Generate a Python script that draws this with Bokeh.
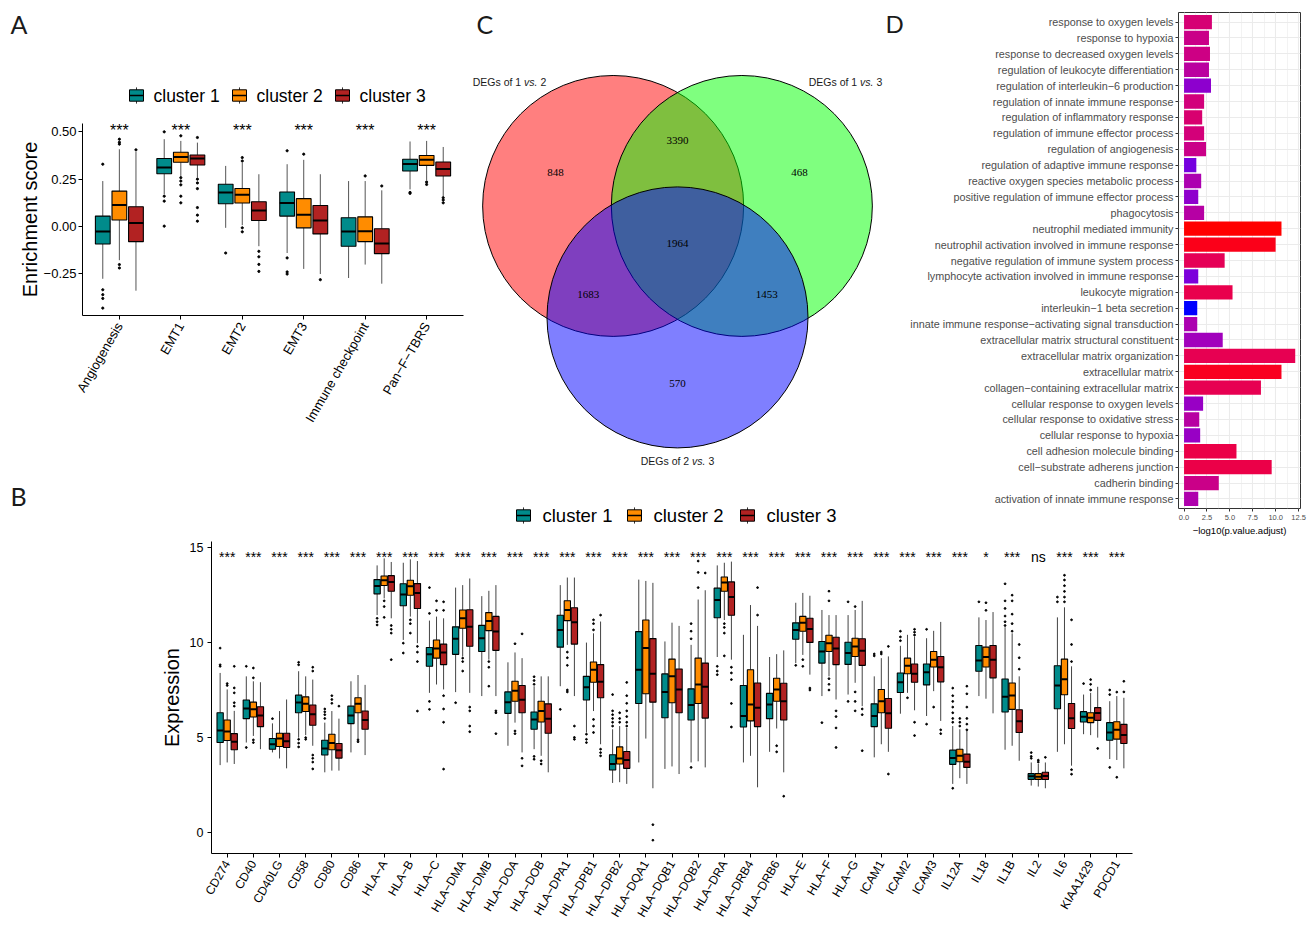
import math
import numpy as np
from bokeh.plotting import figure
from bokeh.models import (Range1d, FixedTicker, SingleIntervalTicker,
                          PrintfTickFormatter, LinearColorMapper, ColumnDataSource)
from bokeh.layouts import row, column
from bokeh.core.properties import value
from bokeh.embed import file_html
from bokeh.resources import INLINE

M = "\u2212"
SANS = "Liberation Sans"
SERIF = "Liberation Serif"
TAG = "Lato"

CLUSTERS = ["cluster 1", "cluster 2", "cluster 3"]
CLUSTER_COLORS = ["#008B8B", "#FF8C00", "#B22222"]

# ---------------- Panel A : enrichment scores (lower whisker, Q1, median, Q3, upper whisker)
A_SIGNATURES = ["Angiogenesis", "EMT1", "EMT2", "EMT3", "Immune checkpoint", f"Pan{M}F{M}TBRS"]
A_STATS_C1 = [(-0.276, -0.092, -0.027, 0.055, 0.240), (0.170, 0.279, 0.311, 0.359, 0.461),
              (-0.007, 0.120, 0.180, 0.223, 0.320), (-0.140, 0.055, 0.124, 0.182, 0.329),
              (-0.272, -0.104, -0.027, 0.046, 0.240), (0.196, 0.293, 0.330, 0.355, 0.449)]
A_STATS_C2 = [(-0.178, 0.034, 0.113, 0.187, 0.408), (0.267, 0.339, 0.367, 0.392, 0.452),
              (0.007, 0.124, 0.168, 0.201, 0.337), (-0.224, -0.007, 0.062, 0.147, 0.352),
              (-0.201, -0.080, -0.025, 0.051, 0.240), (0.244, 0.323, 0.352, 0.375, 0.452)]
A_STATS_C3 = [(-0.339, -0.080, 0.018, 0.104, 0.395), (0.258, 0.325, 0.359, 0.378, 0.443),
              (-0.104, 0.032, 0.085, 0.131, 0.276), (-0.251, -0.039, 0.032, 0.111, 0.276),
              (-0.302, -0.143, -0.090, -0.012, 0.191), (0.161, 0.267, 0.304, 0.341, 0.420)]
A_OUT_C1 = [[0.329, -0.334, -0.36, -0.38, -0.431], [0.50, 0.16, 0.134, 0.002], [-0.14],
            [0.40, -0.166, -0.24, -0.251], [], [0.18, 0.175]]
A_OUT_C2 = [[0.461, 0.445, 0.435, -0.201, -0.219], [0.479, 0.258, 0.24, 0.22, 0.16, 0.125],
            [0.364, 0.346, -0.007, -0.028], [0.382], [0.267], [0.235, 0.222]]
A_OUT_C3 = [[0.405], [0.47, 0.25, 0.23, 0.20, 0.10, 0.06, 0.028], [-0.131, -0.16, -0.20, -0.237],
            [-0.281], [0.214], [0.152, 0.14, 0.125]]
A_SIGNIF = ["***", "***", "***", "***", "***", "***"]
A_TICKS = [-0.25, 0.0, 0.25, 0.50]

# ---------------- Panel B : expression of immune genes
B_GENES = ["CD274", "CD40", "CD40LG", "CD58", "CD80", "CD86", f"HLA{M}A", f"HLA{M}B", f"HLA{M}C",
           f"HLA{M}DMA", f"HLA{M}DMB", f"HLA{M}DOA", f"HLA{M}DOB", f"HLA{M}DPA1", f"HLA{M}DPB1",
           f"HLA{M}DPB2", f"HLA{M}DQA1", f"HLA{M}DQB1", f"HLA{M}DQB2", f"HLA{M}DRA", f"HLA{M}DRB4",
           f"HLA{M}DRB6", f"HLA{M}E", f"HLA{M}F", f"HLA{M}G", "ICAM1", "ICAM2", "ICAM3", "IL12A",
           "IL18", "IL1B", "IL2", "IL6", "KIAA1429", "PDCD1"]
B_STATS_C1 = [
    (3.54, 4.73, 5.36, 6.30, 8.40), (4.73, 5.99, 6.53, 6.97, 8.22), (4.21, 4.38, 4.64, 4.94, 5.74),
    (4.99, 6.30, 6.84, 7.23, 8.49), (3.16, 4.07, 4.42, 4.85, 5.78), (4.21, 5.73, 6.16, 6.65, 7.96),
    (11.45, 12.57, 12.99, 13.32, 14.07), (10.14, 11.94, 12.54, 13.10, 14.21), (7.35, 8.75, 9.38, 9.74, 11.16),
    (7.39, 9.38, 10.20, 10.83, 12.90), (7.18, 9.53, 10.23, 10.91, 12.45), (4.56, 6.27, 6.86, 7.40, 8.96),
    (4.38, 5.43, 5.95, 6.34, 7.70), (7.70, 9.76, 10.67, 11.44, 13.03), (5.26, 6.97, 7.65, 8.22, 10.00),
    (2.60, 3.28, 3.60, 4.09, 5.43), (3.68, 6.79, 8.57, 10.58, 13.32), (3.34, 6.04, 7.40, 8.35, 10.06),
    (3.68, 5.92, 6.71, 7.56, 9.88), (9.24, 11.31, 12.24, 12.87, 14.07), (3.68, 5.55, 6.13, 7.74, 10.41),
    (4.24, 5.99, 6.74, 7.32, 9.24), (8.92, 10.18, 10.67, 11.04, 12.10), (7.18, 8.92, 9.53, 10.06, 11.72),
    (7.26, 8.85, 9.45, 10.02, 11.45), (3.95, 5.57, 6.13, 6.77, 8.22), (6.25, 7.37, 7.91, 8.40, 9.83),
    (6.13, 7.77, 8.43, 8.87, 10.23), (2.55, 3.58, 3.91, 4.33, 5.60), (7.18, 8.49, 9.06, 9.85, 11.33),
    (4.35, 6.34, 7.14, 8.08, 10.81), (2.46, 2.79, 2.95, 3.09, 3.68), (4.24, 6.51, 7.74, 8.78, 11.33),
    (5.17, 5.81, 6.09, 6.36, 7.26), (3.86, 4.85, 5.26, 5.78, 6.91)]
B_STATS_C2 = [
    (3.68, 4.84, 5.31, 5.92, 7.53), (5.08, 6.08, 6.48, 6.86, 7.96), (3.89, 4.52, 4.94, 5.22, 6.39),
    (5.12, 6.37, 6.77, 7.14, 8.22), (3.25, 4.35, 4.70, 5.17, 6.39), (4.91, 6.30, 6.77, 7.09, 8.29),
    (12.33, 13.01, 13.29, 13.51, 14.44), (11.37, 12.50, 12.97, 13.29, 14.39), (7.79, 9.18, 9.69, 10.14, 11.37),
    (9.27, 10.76, 11.28, 11.72, 13.03), (9.10, 10.63, 11.14, 11.58, 12.73), (5.78, 6.91, 7.46, 7.96, 9.48),
    (4.03, 5.81, 6.39, 6.91, 8.22), (9.88, 11.16, 11.72, 12.21, 13.43), (6.39, 7.91, 8.57, 8.98, 10.49),
    (2.64, 3.60, 3.89, 4.50, 5.60), (4.94, 7.30, 9.71, 11.19, 13.25), (3.47, 6.83, 8.22, 9.13, 11.05),
    (3.74, 6.79, 7.79, 9.18, 12.27), (11.19, 12.71, 13.17, 13.46, 14.21), (4.03, 5.87, 6.74, 8.57, 11.98),
    (5.47, 6.91, 7.53, 8.12, 9.39), (9.35, 10.60, 11.05, 11.38, 12.62), (8.22, 9.53, 9.97, 10.39, 11.45),
    (7.88, 9.27, 9.80, 10.23, 11.72), (4.64, 6.30, 6.91, 7.53, 9.18), (7.35, 8.36, 8.78, 9.18, 10.41),
    (7.44, 8.71, 9.10, 9.53, 10.62), (2.85, 3.72, 4.03, 4.38, 5.43), (7.04, 8.71, 9.24, 9.76, 11.19),
    (4.56, 6.48, 7.21, 7.87, 10.49), (2.41, 2.79, 2.93, 3.09, 3.60), (4.64, 7.25, 8.07, 9.13, 11.86),
    (5.12, 5.78, 6.04, 6.30, 7.35), (3.81, 4.91, 5.40, 5.83, 7.18)]
B_STATS_C3 = [
    (3.60, 4.35, 4.77, 5.20, 6.40), (4.38, 5.57, 6.16, 6.62, 7.91), (3.37, 4.47, 4.80, 5.22, 7.00),
    (4.56, 5.64, 6.22, 6.71, 8.05), (3.25, 3.91, 4.33, 4.68, 5.99), (4.07, 5.43, 5.92, 6.39, 7.77),
    (11.28, 12.71, 13.20, 13.53, 14.25), (9.97, 11.80, 12.61, 13.11, 14.30), (7.53, 8.84, 9.48, 9.92, 11.28),
    (7.35, 9.81, 10.84, 11.73, 13.38), (7.18, 9.59, 10.58, 11.38, 13.03), (4.21, 6.30, 6.98, 7.74, 9.18),
    (3.16, 5.22, 5.99, 6.77, 8.22), (7.18, 9.92, 11.07, 11.84, 13.43), (4.64, 7.09, 7.93, 8.84, 11.11),
    (2.55, 3.37, 3.81, 4.26, 5.50), (2.32, 6.86, 8.36, 10.21, 13.15), (3.07, 6.30, 7.53, 8.61, 10.88),
    (3.42, 6.02, 7.67, 8.92, 12.76), (9.10, 11.44, 12.41, 13.20, 14.27), (2.37, 5.57, 6.57, 7.87, 10.88),
    (3.16, 5.92, 6.91, 7.86, 9.59), (8.31, 10.01, 10.72, 11.28, 12.47), (7.00, 8.84, 9.69, 10.28, 11.45),
    (6.65, 8.80, 9.57, 10.20, 12.20), (4.24, 5.48, 6.27, 7.05, 9.27), (6.43, 7.91, 8.36, 8.87, 10.32),
    (5.87, 7.93, 8.70, 9.27, 11.09), (2.55, 3.42, 3.72, 4.12, 5.34), (6.27, 8.14, 9.10, 9.85, 11.61),
    (3.77, 5.26, 5.85, 6.46, 8.22), (2.32, 2.78, 2.97, 3.16, 3.68), (3.51, 5.47, 6.01, 6.79, 8.75),
    (4.99, 5.90, 6.29, 6.57, 7.67), (3.37, 4.68, 5.13, 5.69, 7.09)]
B_OUT_C1 = [[8.75, 8.83, 9.71], [8.75, 4.47], [5.99], [8.83, 8.96, 4.90, 4.70, 4.50], [6.00, 6.20, 6.35, 6.50],
            [], [11.28, 11.10, 10.93], [9.97, 9.45], [12.90, 11.54, 6.90, 6.48], [6.83], [], [],
            [8.20, 8.00, 7.80, 4.00, 3.85], [6.48], [5.17, 4.90, 4.73], [7.26, 6.40, 6.20, 6.00, 5.80, 5.60],
            [], [], [11.00, 10.60, 10.20, 3.42], [8.75, 8.50, 8.31], [], [], [8.80], [5.78], [12.15, 6.90],
            [9.40, 9.30], [10.60, 10.30, 10.10], [10.70, 5.70], [7.60, 7.20, 6.90, 6.60, 6.30, 6.00, 5.80, 2.32],
            [12.15], [13.10, 12.20, 11.80, 11.40, 11.10, 10.90], [4.20, 4.00, 3.90], [12.40, 12.15], [7.84],
            [7.50, 7.26, 3.42]]
B_OUT_C2 = [[7.74, 7.84], [8.66, 8.14, 4.87, 4.73], [], [4.99, 4.90], [6.80, 7.00, 7.20], [4.87, 4.77],
            [12.20, 11.90, 11.33], [11.20, 11.00, 10.50], [12.20, 11.70], [9.18, 9.00, 8.50], [9.00, 8.70, 7.70],
            [9.94, 5.34, 5.20], [3.77, 3.60], [9.50, 9.20, 8.80, 7.50, 7.40], [11.20, 11.00, 10.67, 5.95, 5.60, 5.26],
            [6.30, 6.00, 5.80], [], [], [14.30, 13.70, 12.90], [11.00, 10.80, 10.50, 9.30], [], [4.56, 4.24],
            [9.10, 8.75], [12.71, 12.20, 8.10, 7.80, 7.50], [11.90, 7.40, 6.90, 6.40], [9.50, 9.40], [7.09],
            [6.60], [6.00, 5.80, 5.60], [12.10, 11.70], [12.50, 12.20, 11.50, 11.00, 10.60], [3.80, 3.70],
            [13.55, 13.30, 13.00, 12.70, 12.40, 12.15], [8.05, 7.80, 7.50], [7.39, 2.90]]
B_OUT_C3 = [[6.65, 6.83, 7.35, 7.61, 8.75], [], [], [8.50, 8.70, 4.07, 3.90, 3.70, 3.34], [6.65], [],
            [10.90, 10.70, 10.50, 9.10], [9.80, 9.50, 9.00, 6.39], [12.15, 11.70, 7.20, 6.50, 5.80, 3.33],
            [6.60, 6.40, 5.60, 5.30], [6.40, 6.30, 5.20], [10.46, 3.90, 3.50], [], [5.60, 5.00, 4.90],
            [11.45, 4.38, 4.20, 4.03], [7.90, 7.20, 6.80, 6.40, 6.10, 5.80, 5.60], [0.40, -0.42], [], [13.67],
            [8.70, 8.40, 8.05, 6.79, 5.55], [12.90, 11.45], [1.90], [7.60, 7.50], [6.40, 6.10, 5.50, 4.47],
            [6.50, 6.20, 4.30], [9.80, 3.07], [10.70, 10.55, 10.40, 5.80, 5.10], [5.40, 5.20],
            [7.70, 7.30, 6.60, 6.00, 5.70, 5.40], [], [9.90, 9.20, 8.60], [3.95], [11.20, 9.90, 9.00, 3.30, 3.06],
            [4.42], [7.96, 7.40]]
B_SIGNIF = ["***"] * 29 + ["*", "***", "ns", "***", "***", "***"]
B_TICKS = [0, 5, 10, 15]

# ---------------- Panel C : Venn diagram of DEGs
VENN_SETS = [("DEGs of 1", "2"), ("DEGs of 1", "3"), ("DEGs of 2", "3")]
VENN_REGIONS = [(0,), (1,), (2,), (0, 1), (0, 2), (1, 2), (0, 1, 2)]
VENN_COUNTS = [848, 468, 570, 3390, 1683, 1453, 1964]
VENN_FILLS = ["#FF0000", "#00FF00", "#0000FF"]

# ---------------- Panel D : GO enrichment
D_TERMS = ["response to oxygen levels", "response to hypoxia", "response to decreased oxygen levels",
           "regulation of leukocyte differentiation", f"regulation of interleukin{M}6 production",
           "regulation of innate immune response", "regulation of inflammatory response",
           "regulation of immune effector process", "regulation of angiogenesis",
           "regulation of adaptive immune response", "reactive oxygen species metabolic process",
           "positive regulation of immune effector process", "phagocytosis", "neutrophil mediated immunity",
           "neutrophil activation involved in immune response", "negative regulation of immune system process",
           "lymphocyte activation involved in immune response", "leukocyte migration",
           f"interleukin{M}1 beta secretion", f"innate immune response{M}activating signal transduction",
           "extracellular matrix structural constituent", "extracellular matrix organization",
           "extracellular matrix", f"collagen{M}containing extracellular matrix",
           "cellular response to oxygen levels", "cellular response to oxidative stress",
           "cellular response to hypoxia", "cell adhesion molecule binding",
           f"cell{M}substrate adherens junction", "cadherin binding", "activation of innate immune response"]
D_LOGP = [3.04, 2.72, 2.83, 2.72, 2.94, 2.19, 1.98, 2.19, 2.40, 1.34, 1.87, 1.55, 2.19, 10.63, 9.99, 4.43,
          1.55, 5.29, 1.44, 1.44, 4.22, 12.13, 10.63, 8.39, 2.08, 1.66, 1.76, 5.72, 9.56, 3.79, 1.55]
D_COLOR_SCORE = [0.59, 0.50, 0.52, 0.40, 0.20, 0.56, 0.61, 0.57, 0.50, 0.13, 0.33, 0.21, 0.38, 1.00, 0.95,
                 0.72, 0.15, 0.76, 0.00, 0.33, 0.28, 0.74, 0.93, 0.74, 0.24, 0.39, 0.24, 0.78, 0.78, 0.50, 0.34]

# ======================================================================
OFFSETS = [-0.27, 0.0, 0.27]
BOX_W = 0.24


def base_fig(w, h, xr, yr, **kw):
    p = figure(width=w, height=h, x_range=xr, y_range=yr, toolbar_location=None,
               output_backend="svg", **kw)
    p.outline_line_color = None
    p.background_fill_color = "white"
    p.border_fill_color = "white"
    if "frame_align" in p.properties():
        p.frame_align = False
    return p


def blank_fig(w, h, xr, yr):
    p = base_fig(w, h, xr, yr, x_axis_location=None, y_axis_location=None, min_border=0)
    p.xgrid.visible = False
    p.ygrid.visible = False
    return p


def style_axis(ax, size, color="black", tick_out=4, standoff=4, line=True):
    ax.axis_line_color = "black" if line else None
    ax.axis_line_width = 1
    ax.major_tick_line_color = "black" if line else "#333333"
    ax.major_tick_in = 0
    ax.major_tick_out = tick_out
    ax.minor_tick_line_color = None
    ax.major_label_text_font = SANS
    ax.major_label_text_font_size = size
    ax.major_label_text_color = color
    ax.major_label_standoff = standoff
    ax.axis_label_text_font = SANS
    ax.axis_label_text_font_style = "normal"
    ax.axis_label_text_color = "black"


def draw_boxes(p, stats, outs, whisker_color, pt_size):
    for k in range(3):
        st = np.array(stats[k], dtype=float)
        xpos = np.arange(1, len(st) + 1) + OFFSETS[k]
        lo, q1, med, q3, hi = st.T
        p.segment(x0=xpos, y0=q3, x1=xpos, y1=hi, line_color=whisker_color, line_width=1)
        p.segment(x0=xpos, y0=lo, x1=xpos, y1=q1, line_color=whisker_color, line_width=1)
        p.quad(left=xpos - BOX_W / 2, right=xpos + BOX_W / 2, bottom=q1, top=q3,
               fill_color=CLUSTER_COLORS[k], line_color="black", line_width=1.1)
        p.segment(x0=xpos - BOX_W / 2, y0=med, x1=xpos + BOX_W / 2, y1=med, line_color="black", line_width=2)
        ox = [xpos[i] for i, o in enumerate(outs[k]) for _ in o]
        oy = [v for o in outs[k] for v in o]
        p.scatter(x=ox, y=oy, size=pt_size, color="black", marker="circle")


def draw_key_legend(p, xs, yc, key_w, key_h, whisk, gap, font_size):
    for k in range(3):
        x0 = xs[k]
        xc = x0 + key_w / 2
        p.segment(x0=[xc], y0=[yc - key_h / 2 - whisk], x1=[xc], y1=[yc + key_h / 2 + whisk],
                  line_color="#333333", line_width=1)
        p.quad(left=[x0], right=[x0 + key_w], top=[yc - key_h / 2], bottom=[yc + key_h / 2],
               fill_color=CLUSTER_COLORS[k], line_color="black", line_width=1)
        p.segment(x0=[x0], y0=[yc], x1=[x0 + key_w], y1=[yc], line_color="black", line_width=1.5)
        p.text(x=[x0 + key_w + gap], y=[yc], text=[CLUSTERS[k]], text_font=value(SANS),
               text_font_size=font_size, text_baseline="middle", text_align="left", text_color="black")


def tag(p, x, y, t, size="25px"):
    p.text(x=[x], y=[y], text=[t], text_font=value(TAG), text_font_size=size,
           text_baseline="middle", text_align="left", text_color="#1a1a1a")


# ---------------- Panel A header (page coordinates)
Ahead = blank_fig(470, 108, Range1d(0, 470), Range1d(108, 0))
tag(Ahead, 10, 23, "A")
draw_key_legend(Ahead, [129, 232, 335], 95, 14, 11.4, 2.4, 10, "17.5px")

# ---------------- Panel A main
Amain = base_fig(470, 362, Range1d(0.4, 6.6), Range1d(-0.470, 0.544),
                 min_border_left=82, min_border_right=7, min_border_top=15, min_border_bottom=155)
Amain.xgrid.visible = False
Amain.ygrid.visible = False
draw_boxes(Amain, [A_STATS_C1, A_STATS_C2, A_STATS_C3], [A_OUT_C1, A_OUT_C2, A_OUT_C3], "#555555", 2.2)
Amain.text(x=list(range(1, 7)), y=[0.506] * 6, text=A_SIGNIF, text_font=value(SANS), text_font_size="16px",
           text_align="center", text_baseline="alphabetic", text_color="black")
style_axis(Amain.xaxis[0], "13px")
style_axis(Amain.yaxis[0], "13px", standoff=2)
Amain.xaxis.ticker = FixedTicker(ticks=list(range(1, 7)))
Amain.xaxis.major_label_overrides = {i + 1: s for i, s in enumerate(A_SIGNATURES)}
Amain.xaxis.major_label_orientation = math.pi / 3
Amain.yaxis.ticker = FixedTicker(ticks=A_TICKS)
Amain.yaxis.major_label_overrides = {t: (f"{t:.2f}".replace("-", M)) for t in A_TICKS}
Amain.yaxis.axis_label = "Enrichment score"
Amain.yaxis.axis_label_text_font_size = "20px"
Amain.yaxis.axis_label_standoff = 0

# ---------------- Panel C : Venn (centroid at page x 677, y 242.6 ; figure spans x 470-884, y 0-470)
SCALE_C = 128.7
C = blank_fig(414, 470, Range1d(-207 / SCALE_C, 207 / SCALE_C), Range1d(-227.4 / SCALE_C, 242.6 / SCALE_C))
R0 = 1 / math.sqrt(3)
ang = [math.radians(a) for a in (150, 30, 270)]
cx = [R0 * math.cos(a) for a in ang]
cy = [R0 * math.sin(a) for a in ang]
RAD = 1.014
for k in range(3):
    C.circle(x=[cx[k]], y=[cy[k]], radius=RAD, fill_color=VENN_FILLS[k], fill_alpha=0.5,
             line_color="black", line_width=1)
lx, ly = [], []
for reg in VENN_REGIONS:
    if len(reg) == 1:
        a, d = ang[reg[0]], 1.094
    elif len(reg) == 2:
        a, d = ang[({0, 1, 2} - set(reg)).pop()] + math.pi, 0.80
    else:
        a, d = 0.0, 0.0
    lx.append(d * math.cos(a))
    ly.append(d * math.sin(a))
C.text(x=lx, y=ly, text=[str(v) for v in VENN_COUNTS], text_font=value(SERIF), text_font_size="11px",
       text_align="center", text_baseline="middle", text_color="black")
cat_pos = [math.radians(a) for a in (-40, 40, 180)]
cat_dist = [1.253, 1.253, 1.113]
for k, (pre, suf) in enumerate(VENN_SETS):
    x = cx[k] + cat_dist[k] * math.sin(cat_pos[k])
    y = cy[k] + cat_dist[k] * math.cos(cat_pos[k])
    common = dict(text_font=value(SANS), text_font_size="10.5px", text_baseline="middle", text_color="#1a1a1a")
    C.text(x=[x], y=[y], text=[pre], text_align="right", x_offset=11.7, **common)
    C.text(x=[x], y=[y], text=["vs."], text_align="left", x_offset=14.6, text_font_style="italic", **common)
    C.text(x=[x], y=[y], text=[suf], text_align="left", x_offset=30.9, **common)
tag(C, C.x_range.start + 6 / SCALE_C, C.y_range.end - 23 / SCALE_C, "C")

# ---------------- Panel B header (page coordinates)
Bhead = blank_fig(884, 68, Range1d(0, 884), Range1d(538, 470))
tag(Bhead, 10, 495, "B")
draw_key_legend(Bhead, [516, 627, 740], 515, 14, 11.4, 2.4, 12, "18.5px")

# ---------------- Panel D tag column (page coordinates)
Dtag = blank_fig(23, 538, Range1d(884, 907), Range1d(538, 0))
tag(Dtag, 885, 23, "D", "24px")


# ---------------- Panel D : GO bars
def lab_palette(c0, c1, n=256):
    Mx = np.array([[0.4124564, 0.3575761, 0.1804375], [0.2126729, 0.7151522, 0.0721750],
                   [0.0193339, 0.1191920, 0.9503041]])
    W = np.array([0.95047, 1.0, 1.08883])
    e = 6 / 29

    def to_lab(h):
        rgb = np.array([int(h[i:i + 2], 16) for i in (1, 3, 5)]) / 255
        lin = np.where(rgb <= 0.04045, rgb / 12.92, ((rgb + 0.055) / 1.055) ** 2.4)
        xyz = Mx @ lin / W
        f = np.where(xyz > e ** 3, np.cbrt(xyz), xyz / (3 * e * e) + 4 / 29)
        return np.array([116 * f[1] - 16, 500 * (f[0] - f[1]), 200 * (f[1] - f[2])])

    def to_hex(lab):
        fy = (lab[0] + 16) / 116
        f = np.array([fy + lab[1] / 500, fy, fy - lab[2] / 200])
        xyz = np.where(f > e, f ** 3, 3 * e * e * (f - 4 / 29)) * W
        lin = np.clip(np.linalg.solve(Mx, xyz), 0, 1)
        c = np.where(lin <= 0.0031308, 12.92 * lin, 1.055 * lin ** (1 / 2.4) - 0.055)
        return "#%02x%02x%02x" % tuple(int(round(v * 255)) for v in np.clip(c, 0, 1))

    l0, l1 = to_lab(c0), to_lab(c1)
    return [to_hex(l0 + (l1 - l0) * t) for t in np.linspace(0, 1, n)]


nD = len(D_TERMS)
D = base_fig(404, 538, Range1d(-0.605, 12.705), Range1d(0.4, nD + 0.6),
             min_border_left=268, min_border_right=11, min_border_top=12, min_border_bottom=27)
D.outline_line_color = "#333333"
D.outline_line_width = 1
mapper = LinearColorMapper(palette=lab_palette("#0000FF", "#FF0000"), low=0, high=1)
src = ColumnDataSource(dict(y=[nD - i for i in range(nD)], v=D_LOGP, c=D_COLOR_SCORE))
D.hbar(y="y", left=0, right="v", height=0.9, source=src,
       fill_color={"field": "c", "transform": mapper}, line_color=None)
style_axis(D.xaxis[0], "7.5px", color="#4D4D4D", tick_out=3, standoff=2, line=False)
style_axis(D.yaxis[0], "10.8px", color="#4D4D4D", tick_out=3, standoff=2, line=False)
D.xaxis.ticker = SingleIntervalTicker(interval=2.5, num_minor_ticks=2)
D.xaxis.formatter = PrintfTickFormatter(format="%.1f")
D.xaxis.axis_label = f"{M}log10(p.value.adjust)"
D.xaxis.axis_label_text_font_size = "9.5px"
D.xaxis.axis_label_standoff = 2
D.yaxis.ticker = FixedTicker(ticks=list(range(1, nD + 1)))
D.yaxis.major_label_overrides = {nD - i: t for i, t in enumerate(D_TERMS)}
D.xgrid.grid_line_color = "#EBEBEB"
D.xgrid.grid_line_width = 1.1
D.xgrid.minor_grid_line_color = "#EBEBEB"
D.xgrid.minor_grid_line_width = 0.6
D.ygrid.grid_line_color = "#EBEBEB"
D.ygrid.grid_line_width = 1.1

# ---------------- Panel B main
nB = len(B_GENES)
B = base_fig(1311, 388, Range1d(0.4, nB + 0.6), Range1d(-1.12, 15.33),
             min_border_left=211, min_border_right=179, min_border_top=3, min_border_bottom=71)
B.xgrid.visible = False
B.ygrid.visible = False
draw_boxes(B, [B_STATS_C1, B_STATS_C2, B_STATS_C3], [B_OUT_C1, B_OUT_C2, B_OUT_C3], "#444444", 1.8)
B.text(x=list(range(1, nB + 1)), y=[14.5] * nB, text=B_SIGNIF, text_font=value(SANS),
       text_font_size="14px", text_align="center", text_baseline="alphabetic", text_color="black")
style_axis(B.xaxis[0], "12px")
style_axis(B.yaxis[0], "12.5px")
B.xaxis.ticker = FixedTicker(ticks=list(range(1, nB + 1)))
B.xaxis.major_label_overrides = {i + 1: g for i, g in enumerate(B_GENES)}
B.xaxis.major_label_orientation = math.pi / 3
B.yaxis.ticker = FixedTicker(ticks=B_TICKS)
B.yaxis.axis_label = "Expression"
B.yaxis.axis_label_text_font_size = "20px"
B.yaxis.axis_label_standoff = 4

layout = column(row(column(row(column(Ahead, Amain), C), Bhead), Dtag, D), B)
open("out.html", "w").write(file_html(layout, INLINE, "Figure"))
